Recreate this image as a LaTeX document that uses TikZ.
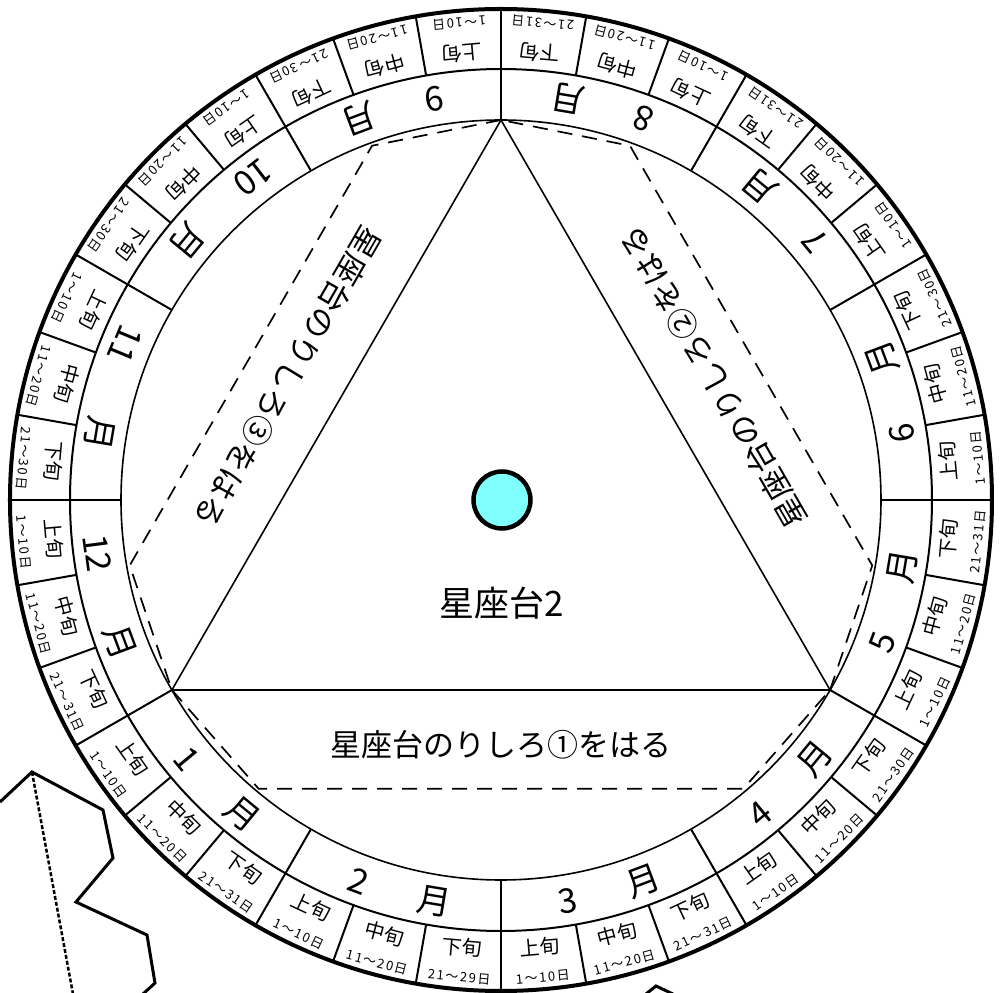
\documentclass[tikz,border=0pt]{standalone}
\usepackage{fontspec}
\setmainfont{Noto Sans CJK JP}
\newfontfamily\datefont{Noto Sans CJK JP}[LetterSpace=12]
\definecolor{hubfill}{RGB}{128,255,255}
\tikzset{
  ringline/.style={line width=2pt},
  flapline/.style={line width=1.7pt, dash pattern=on 15pt off 10pt},
  monthtxt/.style={font=\fontsize{34}{36}\selectfont, inner sep=0pt},
  juntxt/.style={font=\fontsize{20}{21}\selectfont, inner sep=0pt},
  datetxt/.style={font=\datefont\fontsize{13}{14}\selectfont, inner sep=0pt},
  flaptxt/.style={font=\fontsize{31}{33}\selectfont, inner sep=0pt},
  cutline/.style={line width=3pt, line join=miter},
}
\begin{document}
\begin{tikzpicture}[x=1pt,y=1pt]
\useasboundingbox (-501,-493) rectangle (504,500);
% rings
\draw[line width=1.6pt] (0,0) circle (380);
\draw[ringline] (0,0) circle (431);
\draw[line width=4pt] (0,0) circle (491);
% radial lines
\foreach \k in {0,...,11} {
  \draw[ringline] ({\k*30}:380) -- ({\k*30}:491);
  \draw[ringline] ({\k*30+10}:431) -- ({\k*30+10}:491);
  \draw[ringline] ({\k*30+20}:431) -- ({\k*30+20}:491);
}
% labels
\foreach \m/\dd in {1/31,2/29,3/31,4/30,5/31,6/30,7/31,8/31,9/30,10/30,11/30,12/31} {
  \pgfmathsetmacro\s{180+30*\m}
  \pgfmathsetmacro\aA{\s+5}\pgfmathsetmacro\rA{\s+95}
  \pgfmathsetmacro\aB{\s+15}\pgfmathsetmacro\rB{\s+105}
  \pgfmathsetmacro\aC{\s+25}\pgfmathsetmacro\rC{\s+115}
  \node[juntxt, rotate=\rA] (ja\m) at (\aA:449) {上旬};
  \node[juntxt, rotate=\rB] (jb\m) at (\aB:449) {中旬};
  \node[juntxt, rotate=\rC] (jc\m) at (\aC:449) {下旬};
  \node[datetxt, rotate=\rA] (da\m) at (\aA:479) {1～10日};
  \node[datetxt, rotate=\rB] (db\m) at (\aB:479) {11～20日};
  \node[datetxt, rotate=\rC] (dc\m) at (\aC:479) {21～\dd{}日};
  \pgfmathsetmacro\off{ifthenelse(\m>9,7.5,5.5)}
  \pgfmathsetmacro\aN{\s+15-\off}\pgfmathsetmacro\rN{\aN+90}
  \pgfmathsetmacro\aM{\s+20.5}\pgfmathsetmacro\rM{\aM+90}
  \node[monthtxt, rotate=\rN] (mn\m) at (\aN:407) {\m};
  \node[monthtxt, rotate=\rM] (mm\m) at (\aM:407) {月};
}
% triangle
\coordinate (vA) at (90:380);
\coordinate (vB) at (210:380);
\coordinate (vC) at (330:380);
\draw[line width=1.6pt] (vA) -- (vB) -- (vC) -- cycle;
% glue flaps
\coordinate (fA1) at (110:377); \coordinate (fA2) at (190:377);
\coordinate (fB1) at (230:377); \coordinate (fB2) at (310:377);
\coordinate (fC1) at (350:377); \coordinate (fC2) at (70:377);
\draw[flapline] (vA) -- (fA1) -- (fA2) -- (vB);
\draw[flapline] (vB) -- (fB1) -- (fB2) -- (vC);
\draw[flapline] (vC) -- (fC1) -- (fC2) -- (vA);
\node[flaptxt] (t1) at (270:245) {星座台のりしろ①をはる};
\node[flaptxt, rotate=120] (t2) at (30:245) {星座台のりしろ②をはる};
\node[flaptxt, rotate=240] (t3) at (150:245) {星座台のりしろ③をはる};
% hub and title
\node[circle, draw, line width=4.5pt, fill=hubfill, minimum size=57pt, inner sep=0pt] (hub) at (1,0) {};
\node[font=\fontsize{35}{38}\selectfont, inner sep=0pt] (title) at (1,-103) {星座台2};
% fragments of neighbouring parts
\draw[cutline] (-501,-302) -- (-469,-272) -- (-398,-310) -- (-388,-358) -- (-425,-402) -- (-354,-435) -- (-346,-483) -- (-358,-494);
\draw[line width=2.5pt, dash pattern=on 4pt off 2pt] (-469,-272) -- (-428,-494);
\draw[cutline] (145,-494) -- (155,-486) -- (172,-494);
\end{tikzpicture}
\end{document}
